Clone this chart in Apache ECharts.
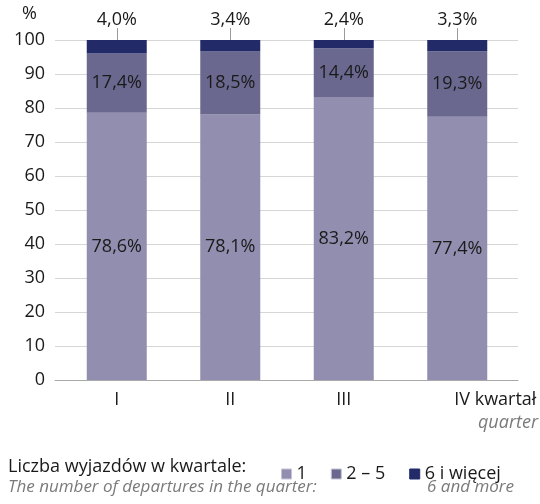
<!DOCTYPE html>
<html><head><meta charset="utf-8">
<script src="https://cdn.jsdelivr.net/npm/echarts@6/dist/echarts.min.js"></script>
<style>html,body{margin:0;padding:0;background:#fff}#c{width:540px;height:504px}</style>
</head><body><div id="c"></div>
<script>
var categories = ['I', 'II', 'III', 'IV kwartał'];
var seriesNames = ['1', '2 – 5', '6 i więcej'];
var one = [78.6, 78.1, 83.2, 77.4];
var twoToFive = [17.4, 18.5, 14.4, 19.3];
var sixPlus = [4.0, 3.4, 2.4, 3.3];
var yTicks = [0, 10, 20, 30, 40, 50, 60, 70, 80, 90, 100];

var FONT = 'Open Sans';
var FS = 18;
function pct(v){ return v.toFixed(1).replace('.', ',') + '%'; }
var colors = ['#918eaf', '#6a688f', '#222a68'];

// top-of-stack positions and the value of the top segment, for the callout labels
var topData = categories.map(function(c, i){ return [i, one[i] + twoToFive[i] + sixPlus[i], sixPlus[i]]; });

var chart = echarts.init(document.getElementById('c'), null, {renderer:'canvas'});
var catData = categories.map(function(c, i){
  if (i === categories.length - 1) return {value: c, textStyle: {align: 'left', padding: [0, 0, 0, -3]}};
  return c;
});
chart.setOption({
  animation: false,
  textStyle: {fontFamily: FONT},
  grid: [
    {left: 60, right: 26, top: 40, bottom: 124},
    {left: 55, right: 22, top: 40, bottom: 124}
  ],
  xAxis: [
    {type: 'category', gridIndex: 0, data: catData, axisLine: {show: false}, axisTick: {show: false},
     axisLabel: {fontFamily: FONT, fontSize: FS, color: '#1a1a1a', margin: 11}},
    {type: 'category', gridIndex: 1, data: categories, axisLine: {show: true, lineStyle: {color: '#a8a8a8', width: 1}},
     axisTick: {show: false}, axisLabel: {show: false}}
  ],
  yAxis: [
    {type: 'value', gridIndex: 0, min: 0, max: 100, interval: 10, show: false},
    {type: 'value', gridIndex: 1, min: 0, max: 100, interval: 10,
     axisLine: {show: false}, axisTick: {show: false},
     splitLine: {lineStyle: {color: '#d6d6d6', width: 1}},
     axisLabel: {fontFamily: FONT, fontSize: FS, color: '#1a1a1a', margin: 10,
       formatter: function(v){ return yTicks.indexOf(v) >= 0 ? String(v) : ''; }}}
  ],
  legend: {
    left: 276, top: 460, itemWidth: 10, itemHeight: 10, itemGap: 24,
    icon: 'rect', selectedMode: false,
    textStyle: {fontFamily: FONT, fontSize: FS, color: '#1a1a1a'},
    data: seriesNames.map(function(n, i){ return {name: n, itemStyle: {borderColor: i < 2 ? '#c4c4d6' : colors[2], borderWidth: 1}}; })
  },
  series: [
    {name: seriesNames[0], type: 'bar', stack: 's', xAxisIndex: 0, yAxisIndex: 0, barWidth: 60, data: one,
     itemStyle: {color: colors[0]},
     label: {show: true, position: 'inside', fontFamily: FONT, fontSize: FS, color: '#1a1a1a',
       formatter: function(p){ return pct(p.value); }}},
    {name: seriesNames[1], type: 'bar', stack: 's', xAxisIndex: 0, yAxisIndex: 0, barWidth: 60, data: twoToFive,
     itemStyle: {color: colors[1]},
     label: {show: true, position: 'inside', fontFamily: FONT, fontSize: FS, color: '#1a1a1a',
       formatter: function(p){ return pct(p.value); }}},
    {name: seriesNames[2], type: 'bar', stack: 's', xAxisIndex: 0, yAxisIndex: 0, barWidth: 60, data: sixPlus,
     itemStyle: {color: colors[2]}, label: {show: false}},
    {type: 'custom', xAxisIndex: 0, yAxisIndex: 0, data: topData, clip: false, z: 5,
     renderItem: function(params, api){
       var p = api.coord([api.value(0), api.value(1)]);
       var x = Math.round(p[0]);
       return {type: 'group', children: [
         {type: 'rect', shape: {x: x, y: p[1] - 12, width: 1, height: 12},
          style: {fill: '#9a9a9a'}},
         {type: 'text', x: p[0], y: p[1] - 20,
          style: {text: pct(api.value(2)), font: FS + 'px "Open Sans"', fill: '#1a1a1a', align: 'center', verticalAlign: 'middle'}}
       ]};
     }}
  ],
  graphic: [
    {type: 'text', left: 22, top: 5, style: {text: '%', font: FS + 'px "Open Sans"', fill: '#1a1a1a'}},
    {type: 'text', right: 2, top: 414, style: {text: 'quarter', font: 'italic ' + FS + 'px "Open Sans"', fill: '#7a7a7a'}},
    {type: 'text', left: 8, top: 458, style: {text: 'Liczba wyjazdów w kwartale:', font: FS + 'px "Open Sans"', fill: '#1a1a1a'}},
    {type: 'text', left: 8, top: 479, style: {text: 'The number of departures in the quarter:', font: 'italic 17px "Open Sans"', fill: '#7a7a7a'}},
    {type: 'text', right: 26, top: 479, style: {text: '6 and more', font: 'italic 17px "Open Sans"', fill: '#7a7a7a'}}
  ]
});
</script></body></html>
